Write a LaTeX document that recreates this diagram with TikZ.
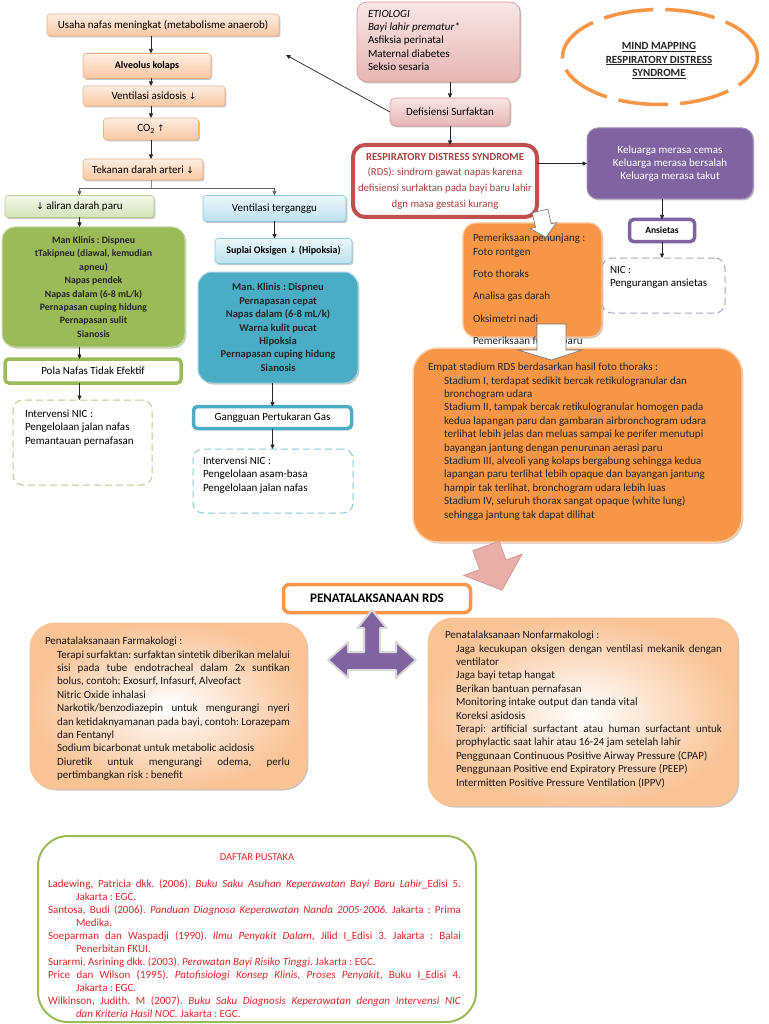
\documentclass[tikz,border=0pt]{standalone}
\usepackage{fontspec}
\setmainfont{Carlito}
\newfontfamily\djv{DejaVu Sans}
\usetikzlibrary{arrows.meta,shapes.geometric,shadows}
\frenchspacing
\newcommand\dnarr{{\djv\fontsize{9}{9}\selectfont ↓}}
\newcommand\uparr{{\djv\fontsize{9}{9}\selectfont ↑}}
\newcommand\jb[2]{\makebox[#1][s]{#2}}
\definecolor{peachA}{HTML}{FDEEE2}
\definecolor{peachB}{HTML}{F9C7A2}
\definecolor{peachD}{HTML}{F3B184}
\definecolor{pinkA}{HTML}{F8E6E5}
\definecolor{pinkB}{HTML}{E6B6B4}
\definecolor{pinkD}{HTML}{D99694}
\definecolor{pinkarr}{HTML}{E8AFA8}
\definecolor{lgA}{HTML}{F3F7EB}
\definecolor{lgB}{HTML}{D4E3B8}
\definecolor{lgD}{HTML}{B8CF8A}
\definecolor{lbA}{HTML}{EAF6FA}
\definecolor{lbB}{HTML}{BDE2EC}
\definecolor{lbD}{HTML}{8FCADB}
\definecolor{olive}{HTML}{9BBB59}
\definecolor{teal}{HTML}{4BACC6}
\definecolor{purp}{HTML}{8064A2}
\definecolor{purpD}{HTML}{B3A2C7}
\definecolor{orng}{HTML}{F79646}
\definecolor{rdsred}{HTML}{C0504D}
\definecolor{rdstext}{HTML}{A8403D}
\definecolor{refred}{HTML}{E4252B}
\definecolor{softor}{HTML}{F9C396}
\tikzset{
  txt/.style={font=\fontsize{11}{13.4}\selectfont, inner sep=0pt, outer sep=0pt},
  shad/.style={drop shadow={shadow xshift=1.3pt, shadow yshift=-1.5pt, opacity=0.22, fill=black}},
  peachbox/.style={txt, shad, draw=peachD, line width=0.6pt, top color=peachA, bottom color=peachB, rounded corners=3pt, align=center},
  pinkbox/.style={txt, shad, draw=pinkD, line width=0.6pt, top color=pinkA, bottom color=pinkB, align=center},
  lgbox/.style={txt, shad, draw=lgD, line width=0.6pt, top color=lgA, bottom color=lgB, rounded corners=3pt, align=center},
  lbbox/.style={txt, shad, draw=lbD, line width=0.6pt, top color=lbA, bottom color=lbB, rounded corners=3pt, align=center},
  thickbox/.style={txt, fill=white, line width=3.5pt, rounded corners=4pt, align=center},
  dashbox/.style={txt, dashed, dash pattern=on 7pt off 4pt, line width=1pt, rounded corners=10pt, fill=white},
  lefttext/.style={txt, align=left, anchor=north west},
  arr/.style={draw=black!85, line width=0.7pt, -{Triangle[length=4.5pt,width=4pt]}},
  conn/.style={draw=black!45, line width=0.8pt},
}
\begin{document}
\begin{tikzpicture}[x=1pt,y=-1pt]
\useasboundingbox (0,0) rectangle (768,1024);
\fill[white] (0,0) rectangle (768,1024);

% ---------------- left chain ----------------
\node[peachbox, minimum width=232pt, minimum height=22pt] (usaha) at (163,25) {Usaha nafas meningkat (metabolisme anaerob)};
\node[peachbox, minimum width=128pt, minimum height=25pt, font=\fontsize{10}{12}\selectfont\bfseries] (alv) at (147,66) {Alveolus kolaps};
\node[peachbox, minimum width=142pt, minimum height=20pt] (vas) at (154,96) {Ventilasi asidosis \dnarr};
\node[peachbox, minimum width=95pt, minimum height=22pt] (co2) at (151,129) {CO\textsubscript{2} \uparr};
\node[peachbox, minimum width=120pt, minimum height=21pt] (tek) at (143,169.5) {Tekanan darah arteri \dnarr};

\draw[arr] (usaha.south -| co2) -- (alv.north -| co2);
\draw[arr] (alv.south -| co2) -- (vas.north -| co2);
\draw[arr] (vas.south -| co2) -- (co2.north);
\draw[arr] (co2.south) -- (tek.north -| co2);

\node[lgbox, minimum width=149pt, minimum height=22pt] (ali) at (79.5,206.5) {\dnarr{} aliran darah paru};
\node[lbbox, minimum width=143pt, minimum height=26pt] (vent) at (274.5,208.5) {Ventilasi terganggu};

\coordinate (br) at (151,188);
\draw[conn] (tek.south -| co2) -- (br);
\draw[arr, draw=black!60] (br) -| (ali.north);
\draw[arr, draw=black!60] (br) -| (vent.north);

% green column
\node[txt, shad, fill=olive, draw=olive!55!white, line width=1pt, rounded corners=13pt, minimum width=183pt, minimum height=120pt, align=center, font=\fontsize{9.8}{13.4}\selectfont\bfseries, text=black!85] (green) at (93.5,287)
 {Man Klinis : Dispneu\\tTakipneu (diawal, kemudian\\apneu)\\Napas pendek\\Napas dalam (6-8 mL/k)\\Pernapasan cuping hidung\\Pernapasan sulit\\Sianosis};
\node[thickbox, draw=olive, minimum width=176pt, minimum height=24pt] (pola) at (93,371) {Pola Nafas Tidak Efektif};
\node[dashbox, draw=lgD, minimum width=139pt, minimum height=85pt] (nicg) at (82.5,442.5) {};
\node[lefttext] (nicgt) at (25,410) {Intervensi NIC :\\Pengelolaan jalan nafas\\Pemantauan pernafasan};

\draw[arr] (ali.south) -- (ali.south |- green.north);
\draw[arr] (green.south -| ali) -- (pola.north -| ali);
\draw[arr] (pola.south -| ali) -- (nicg.north -| ali);

% blue column
\node[lbbox, minimum width=137pt, minimum height=25pt, font=\fontsize{10}{12}\selectfont\bfseries] (sup) at (283.5,251) {Suplai Oksigen \dnarr{} (Hipoksia)};
\node[txt, shad, fill=teal, draw=teal!50!white, line width=1pt, rounded corners=14pt, minimum width=160pt, minimum height=111pt, align=center, font=\fontsize{10.5}{13.4}\selectfont\bfseries, text=black!85] (blue) at (278,327.5)
 {Man. Klinis : Dispneu\\Pernapasan cepat\\Napas dalam (6-8 mL/k)\\Warna kulit pucat\\Hipoksia\\Pernapasan cuping hidung\\Sianosis};
\node[thickbox, draw=teal, minimum width=158pt, minimum height=22pt] (gang) at (272.5,417.5) {Gangguan Pertukaran Gas};
\node[dashbox, draw=lbD, minimum width=160pt, minimum height=64pt] (nicb) at (273,481) {};
\node[lefttext] (nicbt) at (203,457) {Intervensi NIC :\\Pengelolaan asam-basa\\Pengelolaan jalan nafas};

\draw[arr] (vent.south) -- (vent.south |- sup.north);
\draw[arr] (blue.south -| gang) -- (gang.north);
\draw[arr] (gang.south) -- (gang.south |- nicb.north);

% ---------------- middle top ----------------
\node[pinkbox, rounded corners=10pt, minimum width=163pt, minimum height=80pt] (etio) at (438.5,42) {};
\node[lefttext] (etiot) at (368,10) {\textit{ETIOLOGI}\\\textit{Bayi lahir prematur*}\\Asfiksia perinatal\\Maternal diabetes\\Seksio sesaria};
\node[pinkbox, rounded corners=5pt, minimum width=120pt, minimum height=28pt] (def) at (450,112) {Defisiensi Surfaktan};
\node[txt, shad, fill=white, draw=rdsred, line width=4pt, rounded corners=12pt, minimum width=184pt, minimum height=72pt, align=center, font=\fontsize{10.8}{15.7}\selectfont, text=rdstext] (rds) at (445,181)
 {{\fontsize{10.7}{15.7}\selectfont\bfseries RESPIRATORY DISTRESS SYNDROME}\\(RDS): sindrom gawat napas karena\\defisiensi surfaktan pada bayi baru lahir\\dgn masa gestasi kurang};

\draw[arr] (def.north |- etio.south) -- (def.north);
\draw[arr] (def.south) -- (def.south |- rds.north);
\coordinate (defend) at (286,55);
\draw[arr] (def.west) -- (defend);

% ---------------- top right ----------------
\node[ellipse, draw=orng, line width=3.5pt, dash pattern=on 50pt off 12pt, minimum width=195pt, minimum height=95pt] (mind) at (660,57) {};
\node[txt, align=center, font=\fontsize{11}{13.8}\selectfont\bfseries, text=black!85] (mindt) at (659,60.5) {\underline{MIND MAPPING}\\\underline{RESPIRATORY DISTRESS}\\\underline{SYNDROME}};

\node[txt, shad, fill=purp, draw=purp!75!white, line width=1pt, rounded corners=11pt, minimum width=166pt, minimum height=71pt, align=center, text=white, font=\fontsize{11}{13.2}\selectfont] (purpb) at (670,163.5)
 {Keluarga merasa cemas\\Keluarga merasa bersalah\\Keluarga merasa takut};
\node[thickbox, draw=purp, minimum width=65pt, minimum height=22pt, font=\fontsize{9.5}{11}\selectfont\bfseries] (ans) at (662,230.5) {Ansietas};
\node[dashbox, draw=purpD, minimum width=123pt, minimum height=55pt] (nicp) at (663.5,285.5) {};
\node[lefttext] (nicpt) at (610,266) {NIC :\\Pengurangan ansietas};

\draw[arr] (rds.east |- purpb.west) -- (purpb.west);
\draw[arr] (purpb.south -| ans) -- (ans.north);
\draw[arr] (ans.south) -- (ans.south |- nicp.north);

% ---------------- orange column ----------------
\node[txt, shad, fill=orng, draw=orng!55!white, line width=1.2pt, rounded corners=13pt, minimum width=139pt, minimum height=114pt] (pen) at (532.5,280) {};
\node[lefttext, text=black!85] (pent) at (473,234) {Pemeriksaan penunjang :\\Foto rontgen\\[9pt]Foto thoraks\\[9pt]Analisa gas darah\\[9pt]Oksimetri nadi\\[9pt]Pemeriksaan fungsi paru};

\node[txt, shad, fill=orng, draw=orng!45!white, line width=1.5pt, rounded corners=25pt, minimum width=329pt, minimum height=194pt] (emp) at (577.5,445) {};
\node[lefttext, text=black!85] (empt) at (428,363) {Empat stadium RDS berdasarkan hasil foto thoraks :\\
\hspace*{16pt}Stadium I, terdapat sedikit bercak retikulogranular dan\\
\hspace*{16pt}bronchogram udara\\
\hspace*{16pt}Stadium II, tampak bercak retikulogranular homogen pada\\
\hspace*{16pt}kedua lapangan paru dan gambaran airbronchogram udara\\
\hspace*{16pt}terlihat lebih jelas dan meluas sampai ke perifer menutupi\\
\hspace*{16pt}bayangan jantung dengan penurunan aerasi paru\\
\hspace*{16pt}Stadium III, alveoli yang kolaps bergabung sehingga kedua\\
\hspace*{16pt}lapangan paru terlihat lebih opaque dan bayangan jantung\\
\hspace*{16pt}hampir tak terlihat, bronchogram udara lebih luas\\
\hspace*{16pt}Stadium IV, seluruh thorax sangat opaque (white lung)\\
\hspace*{16pt}sehingga jantung tak dapat dilihat};

% white block arrows
\begin{scope}[shift={(540,211)}, rotate=13]
\filldraw[fill=white, draw=black!55, line width=0.6pt] (-8,0) -- (8,0) -- (8,15) -- (13.5,15) -- (0,27) -- (-13.5,15) -- (-8,15) -- cycle;
\end{scope}
\filldraw[fill=white, draw=black!55, line width=0.6pt] (537,324) -- (566,324) -- (566,350) -- (582,350) -- (551.5,360) -- (518,350) -- (537,350) -- cycle;

% pink arrow
\begin{scope}[shift={(486,546)}, rotate=20]
\filldraw[fill=pinkarr, draw=pinkD, line width=0.8pt] (-14,0) -- (14,0) -- (14,20) -- (31,20) -- (0,47) -- (-31,20) -- (-14,20) -- cycle;
\end{scope}

% ---------------- penatalaksanaan ----------------
\node[thickbox, draw=orng, rounded corners=6pt, minimum width=187pt, minimum height=28pt, font=\fontsize{13}{15}\selectfont\bfseries] (pena) at (377,598.5) {PENATALAKSANAAN RDS};
\filldraw[fill=purp, draw=white!70!gray, line width=2pt, line join=round]
 (372,610) -- (386.5,628) -- (380,628) -- (380,652) -- (396,652) -- (396,642) -- (416,660) -- (396,678) -- (396,670)
 -- (348,670) -- (348,678) -- (328,660) -- (348,642) -- (348,652) -- (364,652) -- (364,628) -- (357.5,628) -- cycle;

\node[txt, shad, shading=radial, inner color=white, outer color=softor, draw=softor, line width=0.8pt, rounded corners=25pt, minimum width=277pt, minimum height=166pt] (farm) at (168.5,706) {};
\node[lefttext, text=black!90] (farmt) at (45,637) {Penatalaksanaan Farmakologi :\\
\hspace*{12pt}\jb{233pt}{Terapi surfaktan: surfaktan sintetik diberikan melalui}\\
\hspace*{12pt}\jb{233pt}{sisi pada tube endotracheal dalam 2x suntikan}\\
\hspace*{12pt}bolus, contoh: Exosurf, Infasurf, Alveofact\\
\hspace*{12pt}Nitric Oxide inhalasi\\
\hspace*{12pt}\jb{233pt}{Narkotik/benzodiazepin untuk mengurangi nyeri}\\
\hspace*{12pt}\jb{233pt}{dan ketidaknyamanan pada bayi, contoh: Lorazepam}\\
\hspace*{12pt}dan Fentanyl\\
\hspace*{12pt}Sodium bicarbonat untuk metabolic acidosis\\
\hspace*{12pt}\jb{233pt}{Diuretik untuk mengurangi odema, perlu}\\
\hspace*{12pt}pertimbangkan risk : benefit};

\node[txt, shad, shading=radial, inner color=white, outer color=softor, draw=softor, line width=0.8pt, rounded corners=25pt, minimum width=310pt, minimum height=188pt] (nonf) at (583,712) {};
\node[lefttext, text=black!90] (nonft) at (445,631) {Penatalaksanaan Nonfarmakologi :\\
\hspace*{11pt}\jb{266pt}{Jaga kecukupan oksigen dengan ventilasi mekanik dengan}\\
\hspace*{11pt}ventilator\\
\hspace*{11pt}Jaga bayi tetap hangat\\
\hspace*{11pt}Berikan bantuan pernafasan\\
\hspace*{11pt}Monitoring intake output dan tanda vital\\
\hspace*{11pt}Koreksi asidosis\\
\hspace*{11pt}\jb{266pt}{Terapi: artificial surfactant atau human surfactant untuk}\\
\hspace*{11pt}prophylactic saat lahir atau 16-24 jam setelah lahir\\
\hspace*{11pt}Penggunaan Continuous Positive Airway Pressure (CPAP)\\
\hspace*{11pt}Penggunaan Positive end Expiratory Pressure (PEEP)\\
\hspace*{11pt}Intermitten Positive Pressure Ventilation (IPPV)};

% ---------------- references ----------------
\node[txt, fill=white, draw=olive, line width=2pt, rounded corners=30pt, minimum width=438pt, minimum height=186pt] (refs) at (257,929) {};
\node[txt, text=refred, font=\fontsize{10.5}{12}\selectfont] (dp) at (257,857) {DAFTAR PUSTAKA};
\node[lefttext, text=refred, font=\fontsize{11}{13}\selectfont] (refst) at (48,879) {%
\jb{413pt}{Ladewing, Patricia dkk. (2006). \textit{Buku Saku Asuhan Keperawatan Bayi Baru Lahir}\_Edisi 5.}\\
\hspace*{28pt}Jakarta : EGC.\\
\jb{413pt}{Santosa, Budi (2006). \textit{Panduan Diagnosa Keperawatan Nanda 2005-2006.} Jakarta : Prima}\\
\hspace*{28pt}Medika.\\
\jb{413pt}{Soeparman dan Waspadji (1990). \textit{Ilmu Penyakit Dalam}, Jilid I\_Edisi 3. Jakarta : Balai}\\
\hspace*{28pt}Penerbitan FKUI.\\
Surarmi, Asrining dkk. (2003). \textit{Perawatan Bayi Risiko Tinggi}. Jakarta : EGC.\\
\jb{413pt}{Price dan Wilson (1995). \textit{Patofisiologi Konsep Klinis, Proses Penyakit}, Buku I\_Edisi 4.}\\
\hspace*{28pt}Jakarta : EGC.\\
\jb{413pt}{Wilkinson, Judith. M (2007). \textit{Buku Saku Diagnosis Keperawatan dengan Intervensi NIC}}\\
\hspace*{28pt}\textit{dan Kriteria Hasil NOC.} Jakarta : EGC.};
\end{tikzpicture}
\end{document}
